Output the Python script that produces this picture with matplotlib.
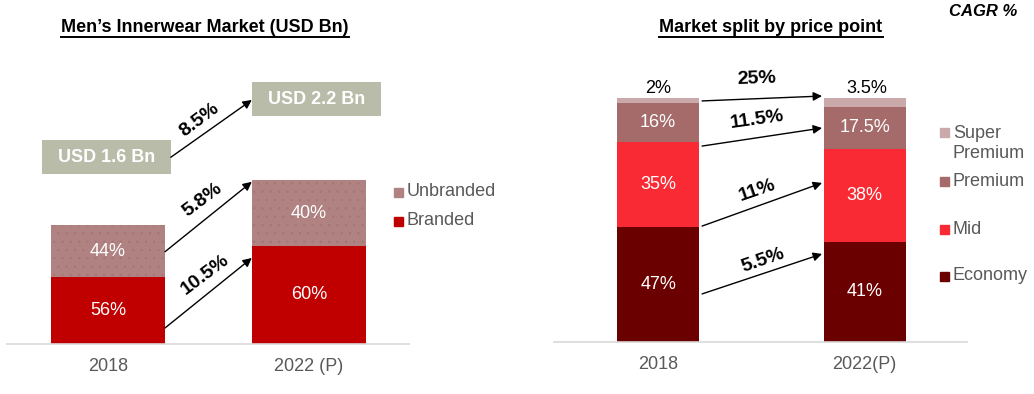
import matplotlib
matplotlib.use('Agg')
import matplotlib.pyplot as plt
from matplotlib.patches import Rectangle
from matplotlib.lines import Line2D

plt.rcParams['font.family'] = ['Liberation Sans', 'DejaVu Sans']
plt.rcParams['hatch.linewidth'] = 0.3

# ---- data: left chart ----
years_left = ['2018', '2022 (P)']
market_size = [1.6, 2.2]
branded_share = [56, 60]
unbranded_share = [44, 40]
size_labels = ['USD 1.6 Bn', 'USD 2.2 Bn']
cagr_left = ['8.5%', '5.8%', '10.5%']

# ---- data: right chart ----
years_right = ['2018', '2022(P)']
economy = [47, 41]
mid = [35, 38]
premium = [16, 17.5]
super_premium = [2, 3.5]
cagr_right = ['25%', '11.5%', '11%', '5.5%']

W, H = 1034, 394
fig = plt.figure(figsize=(W / 100, H / 100), dpi=100)

GREY = '#595959'
FS = 13


def ftext(x, y, s, **kw):
    # figure text placed in pixel coords (origin top-left)
    return fig.text(x / W, 1 - y / H, s, **kw)


def fsquare(x, y, color):
    fig.patches.append(Rectangle((x / W, 1 - (y + 9) / H), 9 / W, 9 / H,
                                 transform=fig.transFigure, color=color))


def style_axis(ax, labels):
    for s in ['top', 'right', 'left']:
        ax.spines[s].set_visible(False)
    ax.spines['bottom'].set_color('#D9D9D9')
    ax.spines['bottom'].set_linewidth(1.2)
    ax.set_yticks([])
    ax.set_xticks([0, 1])
    ax.set_xticklabels(labels, fontsize=FS, color=GREY)
    ax.tick_params(axis='x', length=0, pad=10)
    ax.patch.set_alpha(0)


# ================= left chart =================
ax1 = fig.add_axes([7 / W, 50 / H, 402 / W, 344 / H])
ax1.set_xlim(-0.502, 1.498)
ax1.set_ylim(0, 344 / 74.4)
x = [0, 1]
branded = [m * b / 100 for m, b in zip(market_size, branded_share)]
unbranded = [m * u / 100 for m, u in zip(market_size, unbranded_share)]
ax1.bar(x, branded, width=0.567, color='#C00000', linewidth=0)
ax1.bar(x, unbranded, bottom=branded, width=0.567, facecolor='#B08282',
        edgecolor='#A47474', linewidth=0, hatch='..')
for i in x:
    ax1.text(i, branded[i] / 2, f'{branded_share[i]}%', ha='center', va='center',
             color='white', fontsize=FS)
    ax1.text(i, branded[i] + unbranded[i] / 2, f'{unbranded_share[i]}%', ha='center',
             va='center', color='white', fontsize=FS)
style_axis(ax1, years_left)

# size boxes
box_x = [-0.007, 1.037]
box_y = [2.51, 3.29]
for i in x:
    ax1.add_patch(Rectangle((box_x[i] - 0.32, box_y[i] - 0.228), 0.641, 0.457,
                            color='#B8BCA8', linewidth=0))
    ax1.text(box_x[i], box_y[i], size_labels[i], ha='center', va='center',
             color='white', fontsize=13, fontweight='bold')

# CAGR arrows
arrows_left = [((0.313, 2.51), (0.716, 3.28)),
               ((0.284, 1.24), (0.716, 2.18)),
               ((0.284, 0.215), (0.716, 1.156))]
label_pos_left = [(0.458, 3.01), (0.473, 1.935), (0.483, 0.927)]
for (a, b), lab, pos in zip(arrows_left, cagr_left, label_pos_left):
    ax1.annotate('', xy=b, xytext=a,
                 arrowprops=dict(arrowstyle='-|>', color='black', lw=1,
                                 mutation_scale=13, shrinkA=0, shrinkB=0))
    ax1.text(pos[0], pos[1], lab, ha='center', va='center', rotation=37,
             fontsize=14, fontweight='bold')

# left legend
fsquare(394, 188, '#B08282')
ftext(407, 192, 'Unbranded', fontsize=FS, color=GREY, va='center')
fsquare(394, 217, '#C00000')
ftext(407, 221, 'Branded', fontsize=FS, color=GREY, va='center')

# ================= right chart =================
ax2 = fig.add_axes([554 / W, 52 / H, 413 / W, 342 / H])
ax2.set_xlim(-0.504, 1.496)
ax2.set_ylim(0, 342 / 2.44)
colors = ['#6B0000', '#F92A33', '#A56B6B', '#C9A9A9']
series = [economy, mid, premium, super_premium]
bottom = [0, 0]
for k, (vals, col) in enumerate(zip(series, colors)):
    ax2.bar(x, vals, bottom=bottom, width=0.397, color=col, linewidth=0)
    for i in x:
        if k < 3:
            ax2.text(i, bottom[i] + vals[i] / 2, f'{vals[i]:g}%', ha='center',
                     va='center', color='white', fontsize=FS)
        else:
            ax2.text(i + 0.01 * i, bottom[i] + vals[i] + 0.3, f'{vals[i]:g}%',
                     ha='center', va='bottom', color='black', fontsize=FS)
    bottom = [b + v for b, v in zip(bottom, vals)]
style_axis(ax2, years_right)

arrows_right = [((0.213, 98.8), (0.794, 100.8)),
                ((0.213, 80.3), (0.794, 87.7)),
                ((0.213, 47.5), (0.794, 65.2)),
                ((0.213, 19.7), (0.794, 36.1))]
label_pos_right = [(0.479, 107.8), (0.479, 91.0), (0.479, 61.9), (0.508, 33.6)]
rot_right = [2, 8, 19, 19]
for (a, b), lab, pos, r in zip(arrows_right, cagr_right, label_pos_right, rot_right):
    ax2.annotate('', xy=b, xytext=a,
                 arrowprops=dict(arrowstyle='-|>', color='black', lw=1,
                                 mutation_scale=13, shrinkA=0, shrinkB=0))
    ax2.text(pos[0], pos[1], lab, ha='center', va='center', rotation=r,
             fontsize=14, fontweight='bold')

# right legend
fsquare(940, 128, colors[3])
ftext(953, 133, 'Super', fontsize=FS, color=GREY, va='center')
ftext(953, 153, 'Premium', fontsize=FS, color=GREY, va='center')
fsquare(940, 177, colors[2])
ftext(953, 181, 'Premium', fontsize=FS, color=GREY, va='center')
fsquare(940, 225, colors[1])
ftext(953, 229, 'Mid', fontsize=FS, color=GREY, va='center')
fsquare(940, 272, colors[0])
ftext(953, 276, 'Economy', fontsize=FS, color=GREY, va='center')

# titles with underline
t1 = ftext(205, 27, 'Men’s Innerwear Market (USD Bn)', ha='center', va='center',
           fontsize=13, fontweight='bold')
t2 = ftext(771, 27, 'Market split by price point', ha='center', va='center',
           fontsize=13, fontweight='bold')
ftext(983, 12, 'CAGR %', ha='center', va='center', fontsize=12,
      fontweight='bold', fontstyle='italic')

fig.canvas.draw()
r = fig.canvas.get_renderer()
for t in [t1, t2]:
    bb = t.get_window_extent(r)
    yline = (bb.y0 - 1) / H
    fig.add_artist(Line2D([bb.x0 / W, bb.x1 / W], [yline, yline],
                          transform=fig.transFigure, color='black', lw=1.4))

fig.savefig('out.png', dpi=100)
